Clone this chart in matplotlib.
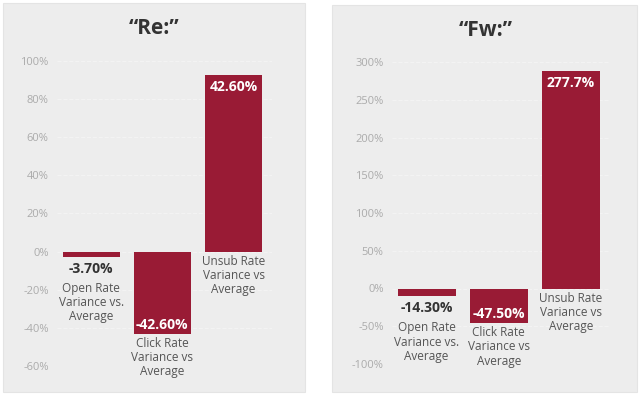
import matplotlib.pyplot as plt
from matplotlib.patches import Rectangle

plt.rcParams['font.family'] = ['Open Sans', 'DejaVu Sans']

# Данные (высоты столбцов, подписи - как на картинке)
categories = ['Open Rate\nVariance vs.\nAverage',
              'Click Rate\nVariance vs\nAverage',
              'Unsub Rate\nVariance vs\nAverage']

re_heights = [-2.6, -43.0, 92.5]
re_labels = ['-3.70%', '-42.60%', '42.60%']
re_ticks = [100, 80, 60, 40, 20, 0, -20, -40, -60]

fw_heights = [-10.5, -46.0, 288.0]
fw_labels = ['-14.30%', '-47.50%', '277.7%']
fw_ticks = [300, 250, 200, 150, 100, 50, 0, -50, -100]

BAR = '#991b35'
W, H = 640, 396

fig = plt.figure(figsize=(6.4, 3.96), dpi=100)
fig.patch.set_facecolor('white')

# серые подложки панелей
for x0, y0, x1, y1 in [(3, 3, 305, 392), (332, 5, 637, 392)]:
    fig.patches.append(Rectangle((x0 / W, 1 - y1 / H), (x1 - x0) / W, (y1 - y0) / H,
                                 transform=fig.transFigure, facecolor='#ededed',
                                 edgecolor='#e4e4e4', lw=0.8, zorder=-5))


def panel(px, title, tx, ty, heights, labels, ticks, inside_min):
    x0, x1, ytop, ybot = px
    ax = fig.add_axes([x0 / W, 1 - ybot / H, (x1 - x0) / W, (ybot - ytop) / H])
    ax.set_facecolor('none')
    ax.set_ylim(min(ticks), max(ticks))
    ax.set_yticks(ticks)
    ax.set_yticklabels([f'{t}%' for t in ticks], color='#ababab', fontsize=8)
    ax.tick_params(length=0, pad=6)
    ax.set_xticks([])
    for s in ax.spines.values():
        s.set_visible(False)
    ax.grid(axis='y', color='#f3f3f3', lw=0.8, ls='--')
    ax.set_axisbelow(True)

    pos = range(len(heights))
    ax.bar(pos, heights, width=0.8, color=BAR, zorder=3)
    ax.set_xlim(-0.48, 2.54)

    cat_kw = dict(textcoords='offset points', ha='center', va='top',
                  color='#555555', fontsize=8.5, linespacing=1.12)
    for i, (h, lab, cat) in enumerate(zip(heights, labels, categories)):
        if abs(h) >= inside_min:
            # подпись внутри столбца
            off = -12 if h > 0 else 9
            ax.annotate(lab, (i, h), xytext=(0, off * 0.72), textcoords='offset points',
                        ha='center', va='center', color='white', fontsize=10,
                        fontweight='bold', zorder=4)
            base = h if h < 0 else 0
            ax.annotate(cat, (i, base), xytext=(0, -3 * 0.72), **cat_kw)
        else:
            ax.annotate(lab, (i, h), xytext=(0, -12 * 0.72), textcoords='offset points',
                        ha='center', va='center', color='#333333', fontsize=10,
                        fontweight='bold')
            ax.annotate(cat, (i, h), xytext=(0, -25 * 0.72), **cat_kw)

    fig.text(tx / W, 1 - ty / H, title, ha='center', va='center',
             fontsize=15, fontweight='bold', color='#333333')
    return ax


panel((57, 272, 61, 366), '\u201cRe:\u201d', 154, 28, re_heights, re_labels, re_ticks, 20)
panel((392, 610, 62, 364), '\u201cFw:\u201d', 486, 30, fw_heights, fw_labels, fw_ticks, 30)

fig.savefig('out.png', dpi=100)
